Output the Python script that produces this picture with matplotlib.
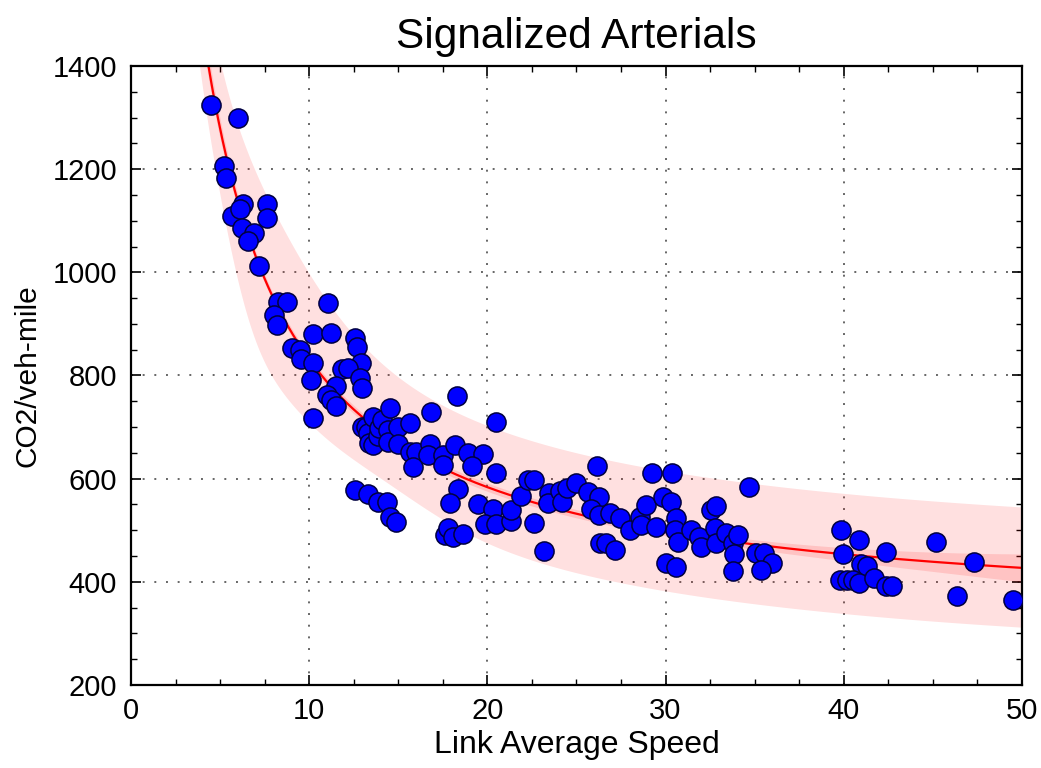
import numpy as np
import matplotlib
matplotlib.use("Agg")
import matplotlib.pyplot as plt
from matplotlib.ticker import MultipleLocator

# ---- data ----
speed = [
    4.47, 5.98, 5.23, 5.33, 6.30, 7.61, 7.61, 5.65, 6.11, 6.21, 6.90, 6.58, 7.18,
    8.26, 8.73, 8.04, 8.17, 11.07, 10.19, 11.25, 9.01, 9.48, 9.57, 10.19, 10.10,
    12.56, 12.66, 12.90, 11.85, 12.19, 12.84, 12.94, 11.50, 11.00, 11.25, 11.50, 10.19,
    12.95, 13.20, 13.30, 13.35, 13.60, 13.60, 13.85, 13.90, 14.10, 14.40, 14.45, 14.55,
    15.00, 15.00, 15.65, 15.65, 16.00, 15.80, 16.85, 18.27, 20.51, 16.77, 16.68, 17.52,
    17.52, 18.17, 18.92, 19.76, 19.16, 20.51,
    12.56, 13.31, 13.87, 14.37, 14.53, 14.86, 18.36, 17.93, 19.48, 20.32,
    17.60, 17.80, 18.10, 18.65, 19.85, 20.51, 21.30, 21.30, 21.90, 22.30, 22.60, 22.60, 23.20,
    23.45, 23.40, 24.10, 24.20, 24.45, 25.00, 26.17, 25.65, 26.27, 25.84, 26.27, 26.87,
    27.42, 27.99, 28.55, 28.92, 28.64, 29.48, 29.26, 30.38, 29.85, 30.32, 30.60, 30.51,
    30.70, 30.05, 30.57, 26.30, 26.68, 27.14, 31.45, 31.90, 32.00, 32.57, 32.85, 32.76,
    32.85, 33.40, 33.78, 34.06, 33.82, 33.78, 34.70, 35.10, 35.55, 36.00, 35.37,
    39.83, 39.94, 40.88, 40.95, 41.30, 42.35, 39.79, 40.17, 40.54, 40.85, 41.70, 42.35,
    42.70, 45.20, 47.30, 46.35, 49.50,
]
co2 = [
    1325, 1299, 1207, 1182, 1133, 1133, 1105, 1109, 1122, 1086, 1076, 1060, 1013,
    943, 943, 918, 897, 940, 880, 883, 854, 850, 831, 825, 792,
    873, 855, 825, 812, 815, 795, 776, 779, 762, 752, 740, 717,
    700, 700, 688, 670, 720, 665, 682, 698, 713, 695, 671, 736,
    700, 668, 707, 652, 652, 622, 730, 761, 710, 668, 646, 646,
    626, 665, 649, 648, 624, 611,
    578, 571, 555, 555, 526, 515, 579, 553, 550, 542,
    490, 505, 487, 492, 513, 513, 517, 540, 566, 598, 598, 514, 459,
    572, 553, 576, 555, 582, 591, 625, 575, 565, 542, 530, 533,
    523, 500, 526, 549, 510, 507, 611, 611, 565, 555, 523, 500,
    478, 436, 429, 475, 475, 462, 500, 487, 468, 539, 546, 504,
    475, 494, 475, 491, 454, 420, 584, 455, 455, 436, 423,
    500, 454, 481, 435, 431, 457, 403, 403, 403, 398, 407, 391,
    391, 477, 438, 373, 365,
]

# fitted curve  y = a + b/x + c/x^2
fit_a, fit_b, fit_c = 319.5, 5441.0, -3221.0
# prediction band: upper half-width parameters
up_base, up_bump, up_xc, up_w = 118.0, 55.0, 8.5, 0.45
# prediction band: lower half-width parameters
lo_base, lo_bump, lo_xc, lo_w = 115.0, 50.0, 7.0, 0.30
lo_dip, lo_dxc, lo_dw = 25.0, 14.5, 0.28
# confidence band half-width parameters
ci_base, ci_hi, ci_lo = 8.0, 19.0, 17.0

x_range = (0, 50)
y_range = (200, 1400)
x_ticks = [0, 10, 20, 30, 40, 50]
y_ticks = [200, 400, 600, 800, 1000, 1200, 1400]


def gauss_log(x, xc, w):
    return np.exp(-((np.log(x) - np.log(xc)) / w) ** 2)


# ---- figure ----
plt.rcParams['font.family'] = ['Liberation Sans', 'DejaVu Sans']
fig = plt.figure(figsize=(10.41, 7.68), dpi=100)
ax = fig.add_axes([0.1258, 0.1081, 0.8559, 0.8060])

xs = np.linspace(3.5, 50, 600)
u = 1.0 / xs
fit = fit_a + fit_b * u + fit_c * u ** 2
up_hw = up_base + up_bump * gauss_log(xs, up_xc, up_w)
lo_hw = (lo_base + lo_bump * gauss_log(xs, lo_xc, lo_w)
         - lo_dip * gauss_log(xs, lo_dxc, lo_dw))
ci_hw = (ci_base + ci_hi * np.clip((xs - 30) / 20, 0, None) ** 2
         + ci_lo * np.clip((8 - xs) / 3.7, 0, None) ** 2)

ax.fill_between(xs, fit - lo_hw, fit + up_hw, color='#ff0000', alpha=0.12,
                linewidth=0, zorder=1)
ax.fill_between(xs, fit - ci_hw, fit + ci_hw, color='#ff0000', alpha=0.13,
                linewidth=0, zorder=1.5)
ax.plot(xs, fit, color='#ff0000', linewidth=1.6, zorder=2)

ax.scatter(speed, co2, s=190, color='#0000ff', edgecolors='#000040',
           linewidths=1.1, zorder=3)

ax.set_xlim(*x_range)
ax.set_ylim(*y_range)
ax.set_xticks(x_ticks)
ax.set_yticks(y_ticks)
ax.xaxis.set_minor_locator(MultipleLocator(2.5))
ax.yaxis.set_minor_locator(MultipleLocator(50))

ax.tick_params(which='both', direction='in', top=True, right=True)
ax.tick_params(which='major', length=7, width=1.2, labelsize=21, pad=9)
ax.tick_params(which='minor', length=4, width=1.0)
ax.tick_params(axis='y', which='major', pad=10)
for sp in ax.spines.values():
    sp.set_linewidth(1.6)

ax.grid(True, which='major', linestyle=(0, (1, 5)), color='0.4',
        linewidth=1.4)
ax.set_axisbelow(True)

ax.set_title('Signalized Arterials', fontsize=30.5, pad=13)
ax.set_xlabel('Link Average Speed', fontsize=23, labelpad=3)
ax.set_ylabel('CO2/veh-mile', fontsize=21.5, labelpad=8)

fig.savefig('out.png', dpi=100)
